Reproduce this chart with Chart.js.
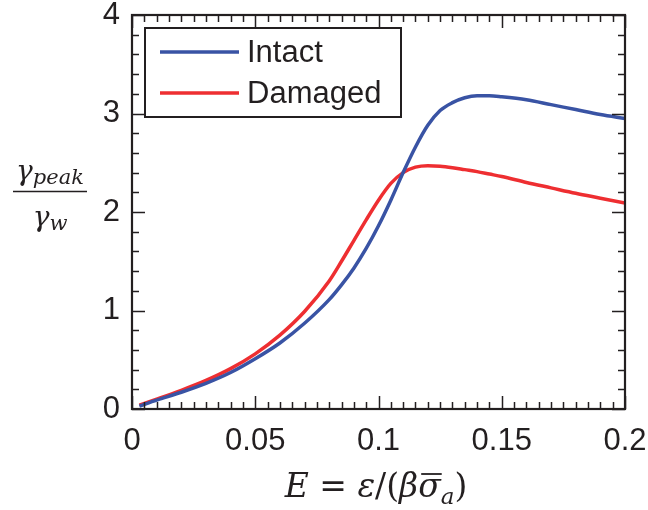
<!DOCTYPE html>
<html>
<head>
<meta charset="utf-8">
<script src="https://cdn.jsdelivr.net/npm/chart.js@4.4.1/dist/chart.umd.min.js"></script>
<style>
  html, body { margin: 0; padding: 0; background: #fff; }
  #wrap { width: 648px; height: 510px; }
</style>
</head>
<body>
<div id="wrap"><canvas id="my-chart" width="648" height="510"></canvas></div>
<script>
// E values (x) shared by both curves
const eValues = [0.003, 0.01, 0.02, 0.03, 0.04, 0.05, 0.06, 0.07, 0.08, 0.085, 0.09, 0.095, 0.1, 0.105,
  0.11, 0.115, 0.12, 0.125, 0.13, 0.135, 0.14, 0.145, 0.15, 0.16, 0.17, 0.18, 0.19, 0.2];
const intactValues = [0.03, 0.09, 0.17, 0.26, 0.37, 0.51, 0.67, 0.87, 1.11, 1.26, 1.43, 1.63, 1.86, 2.12,
  2.40, 2.66, 2.88, 3.03, 3.11, 3.16, 3.18, 3.18, 3.17, 3.14, 3.09, 3.04, 2.99, 2.95];
const damagedValues = [0.04, 0.10, 0.19, 0.29, 0.41, 0.56, 0.75, 0.99, 1.30, 1.50, 1.71, 1.92, 2.12, 2.29,
  2.40, 2.455, 2.47, 2.465, 2.45, 2.43, 2.41, 2.385, 2.36, 2.30, 2.245, 2.19, 2.14, 2.09];
const seriesNames = ['Intact', 'Damaged'];
const xTickLabels = ['0', '0.05', '0.1', '0.15', '0.2'];
const yTickLabels = ['0', '1', '2', '3', '4'];

const ink = '#231f20';
const serif = '"DejaVu Serif", "Liberation Serif", serif';

const toPoints = vals => eValues.map((e, i) => ({ x: e, y: vals[i] }));

// frame, inward ticks (major + minor, mirrored), legend box and math titles
const decorations = {
  id: 'decorations',
  afterDraw(chart) {
    const ctx = chart.ctx;
    const a = chart.chartArea;
    const xs = chart.scales.x, ys = chart.scales.y;
    ctx.save();
    ctx.strokeStyle = ink;
    ctx.lineWidth = 1.5;
    ctx.beginPath();
    for (let k = 0; k <= 40; k++) {
      const v = k * 0.005;
      const px = Math.round(xs.getPixelForValue(v)) + 0.5;
      const len = k % 10 === 0 ? 13 : 7;
      ctx.moveTo(px, a.bottom); ctx.lineTo(px, a.bottom - len);
      ctx.moveTo(px, a.top); ctx.lineTo(px, a.top + len);
    }
    for (let k = 0; k <= 20; k++) {
      const v = k * 0.2;
      const py = Math.round(ys.getPixelForValue(v)) + 0.5;
      const len = k % 5 === 0 ? 13 : 7;
      ctx.moveTo(a.left, py); ctx.lineTo(a.left + len, py);
      ctx.moveTo(a.right, py); ctx.lineTo(a.right - len, py);
    }
    ctx.stroke();
    ctx.lineWidth = 2.2;
    ctx.strokeRect(a.left, a.top, a.right - a.left, a.bottom - a.top);

    // legend
    const lx = 145, ly = 28, lw = 256, lh = 89;
    ctx.fillStyle = '#fff';
    ctx.fillRect(lx, ly, lw, lh);
    ctx.lineWidth = 2;
    ctx.strokeStyle = ink;
    ctx.strokeRect(lx, ly, lw, lh);
    chart.data.datasets.forEach((ds, i) => {
      const y = ly + 24 + i * 41;
      ctx.strokeStyle = ds.borderColor;
      ctx.lineWidth = 3.5;
      ctx.beginPath();
      ctx.moveTo(160, y); ctx.lineTo(239, y);
      ctx.stroke();
      ctx.fillStyle = ink;
      ctx.font = '31px "Liberation Sans", Arial, sans-serif';
      ctx.textBaseline = 'middle';
      ctx.textAlign = 'left';
      ctx.fillText(ds.label, 247, y + 1);
    });

    // y title: gamma_peak / gamma_w
    ctx.fillStyle = ink;
    ctx.strokeStyle = ink;
    ctx.textBaseline = 'alphabetic';
    ctx.textAlign = 'left';
    const big = 'italic 28px ' + serif, small = 'italic 21px ' + serif;
    ctx.font = big;
    const gW = ctx.measureText('γ').width;
    ctx.font = small;
    const pW = ctx.measureText('peak').width;
    const wW = ctx.measureText('w').width;
    const cx = 50;
    let x0 = cx - (gW + pW) / 2;
    ctx.font = big; ctx.fillText('γ', x0, 180);
    ctx.font = small; ctx.fillText('peak', x0 + gW, 184);
    ctx.lineWidth = 1.6;
    ctx.beginPath();
    ctx.moveTo(13, 191.5); ctx.lineTo(87, 191.5);
    ctx.stroke();
    x0 = cx - (gW + wW) / 2;
    ctx.font = big; ctx.fillText('γ', x0, 226);
    ctx.font = small; ctx.fillText('w', x0 + gW, 230);

    // x title: E = eps/(beta sigmabar_a)
    const it = 'italic 33px ' + serif, rm = '33px ' + serif, sub = 'italic 23px ' + serif;
    const parts = [
      ['E', it, 0], [' = ', rm, 0], ['ε', it, 0], ['/(', rm, 0],
      ['β', it, 0], ['σ', it, 0, true], ['a', sub, 7], [')', rm, 0]
    ];
    let total = 0;
    parts.forEach(p => { ctx.font = p[1]; p.w = ctx.measureText(p[0]).width; total += p.w; });
    let tx = 376 - total / 2;
    const base = 497;
    parts.forEach(p => {
      ctx.font = p[1];
      ctx.fillText(p[0], tx, base + p[2]);
      if (p[3]) {
        ctx.lineWidth = 1.8;
        ctx.beginPath();
        ctx.moveTo(tx + 3, base - 23); ctx.lineTo(tx + p.w + 1, base - 23);
        ctx.stroke();
      }
      tx += p.w;
    });
    ctx.restore();
  }
};

const ctx = document.getElementById('my-chart').getContext('2d');
const chart = new Chart(ctx, {
  type: 'line',
  data: {
    datasets: [
      {
        label: seriesNames[0],
        data: toPoints(intactValues),
        borderColor: '#3953a4',
        borderWidth: 3.5,
        pointRadius: 0,
        cubicInterpolationMode: 'monotone'
      },
      {
        label: seriesNames[1],
        data: toPoints(damagedValues),
        borderColor: '#ee2e31',
        borderWidth: 3.5,
        pointRadius: 0,
        cubicInterpolationMode: 'monotone'
      }
    ]
  },
  options: {
    responsive: false,
    animation: false,
    events: [],
    layout: { padding: { top: 15, right: 23, left: 0, bottom: 0 } },
    plugins: { legend: { display: false }, tooltip: { enabled: false } },
    scales: {
      x: {
        type: 'linear',
        min: 0, max: 0.2,
        grid: { display: false, drawTicks: false },
        border: { display: false },
        ticks: {
          stepSize: 0.05,
          padding: 14,
          color: ink,
          font: { size: 31, family: '"Liberation Sans", Arial, sans-serif' },
          maxRotation: 0,
          callback: (v, i) => xTickLabels[i]
        },
        afterFit: s => { s.height = 101; s.paddingLeft = 0; s.paddingRight = 0; }
      },
      y: {
        min: 0, max: 4,
        grid: { display: false, drawTicks: false },
        border: { display: false },
        ticks: {
          stepSize: 1,
          padding: 12,
          color: ink,
          font: { size: 31, family: '"Liberation Sans", Arial, sans-serif' },
          callback: (v, i) => yTickLabels[i]
        },
        afterFit: s => { s.width = 132; s.paddingTop = 0; s.paddingBottom = 0; }
      }
    }
  },
  plugins: [decorations]
});
</script>
</body>
</html>
